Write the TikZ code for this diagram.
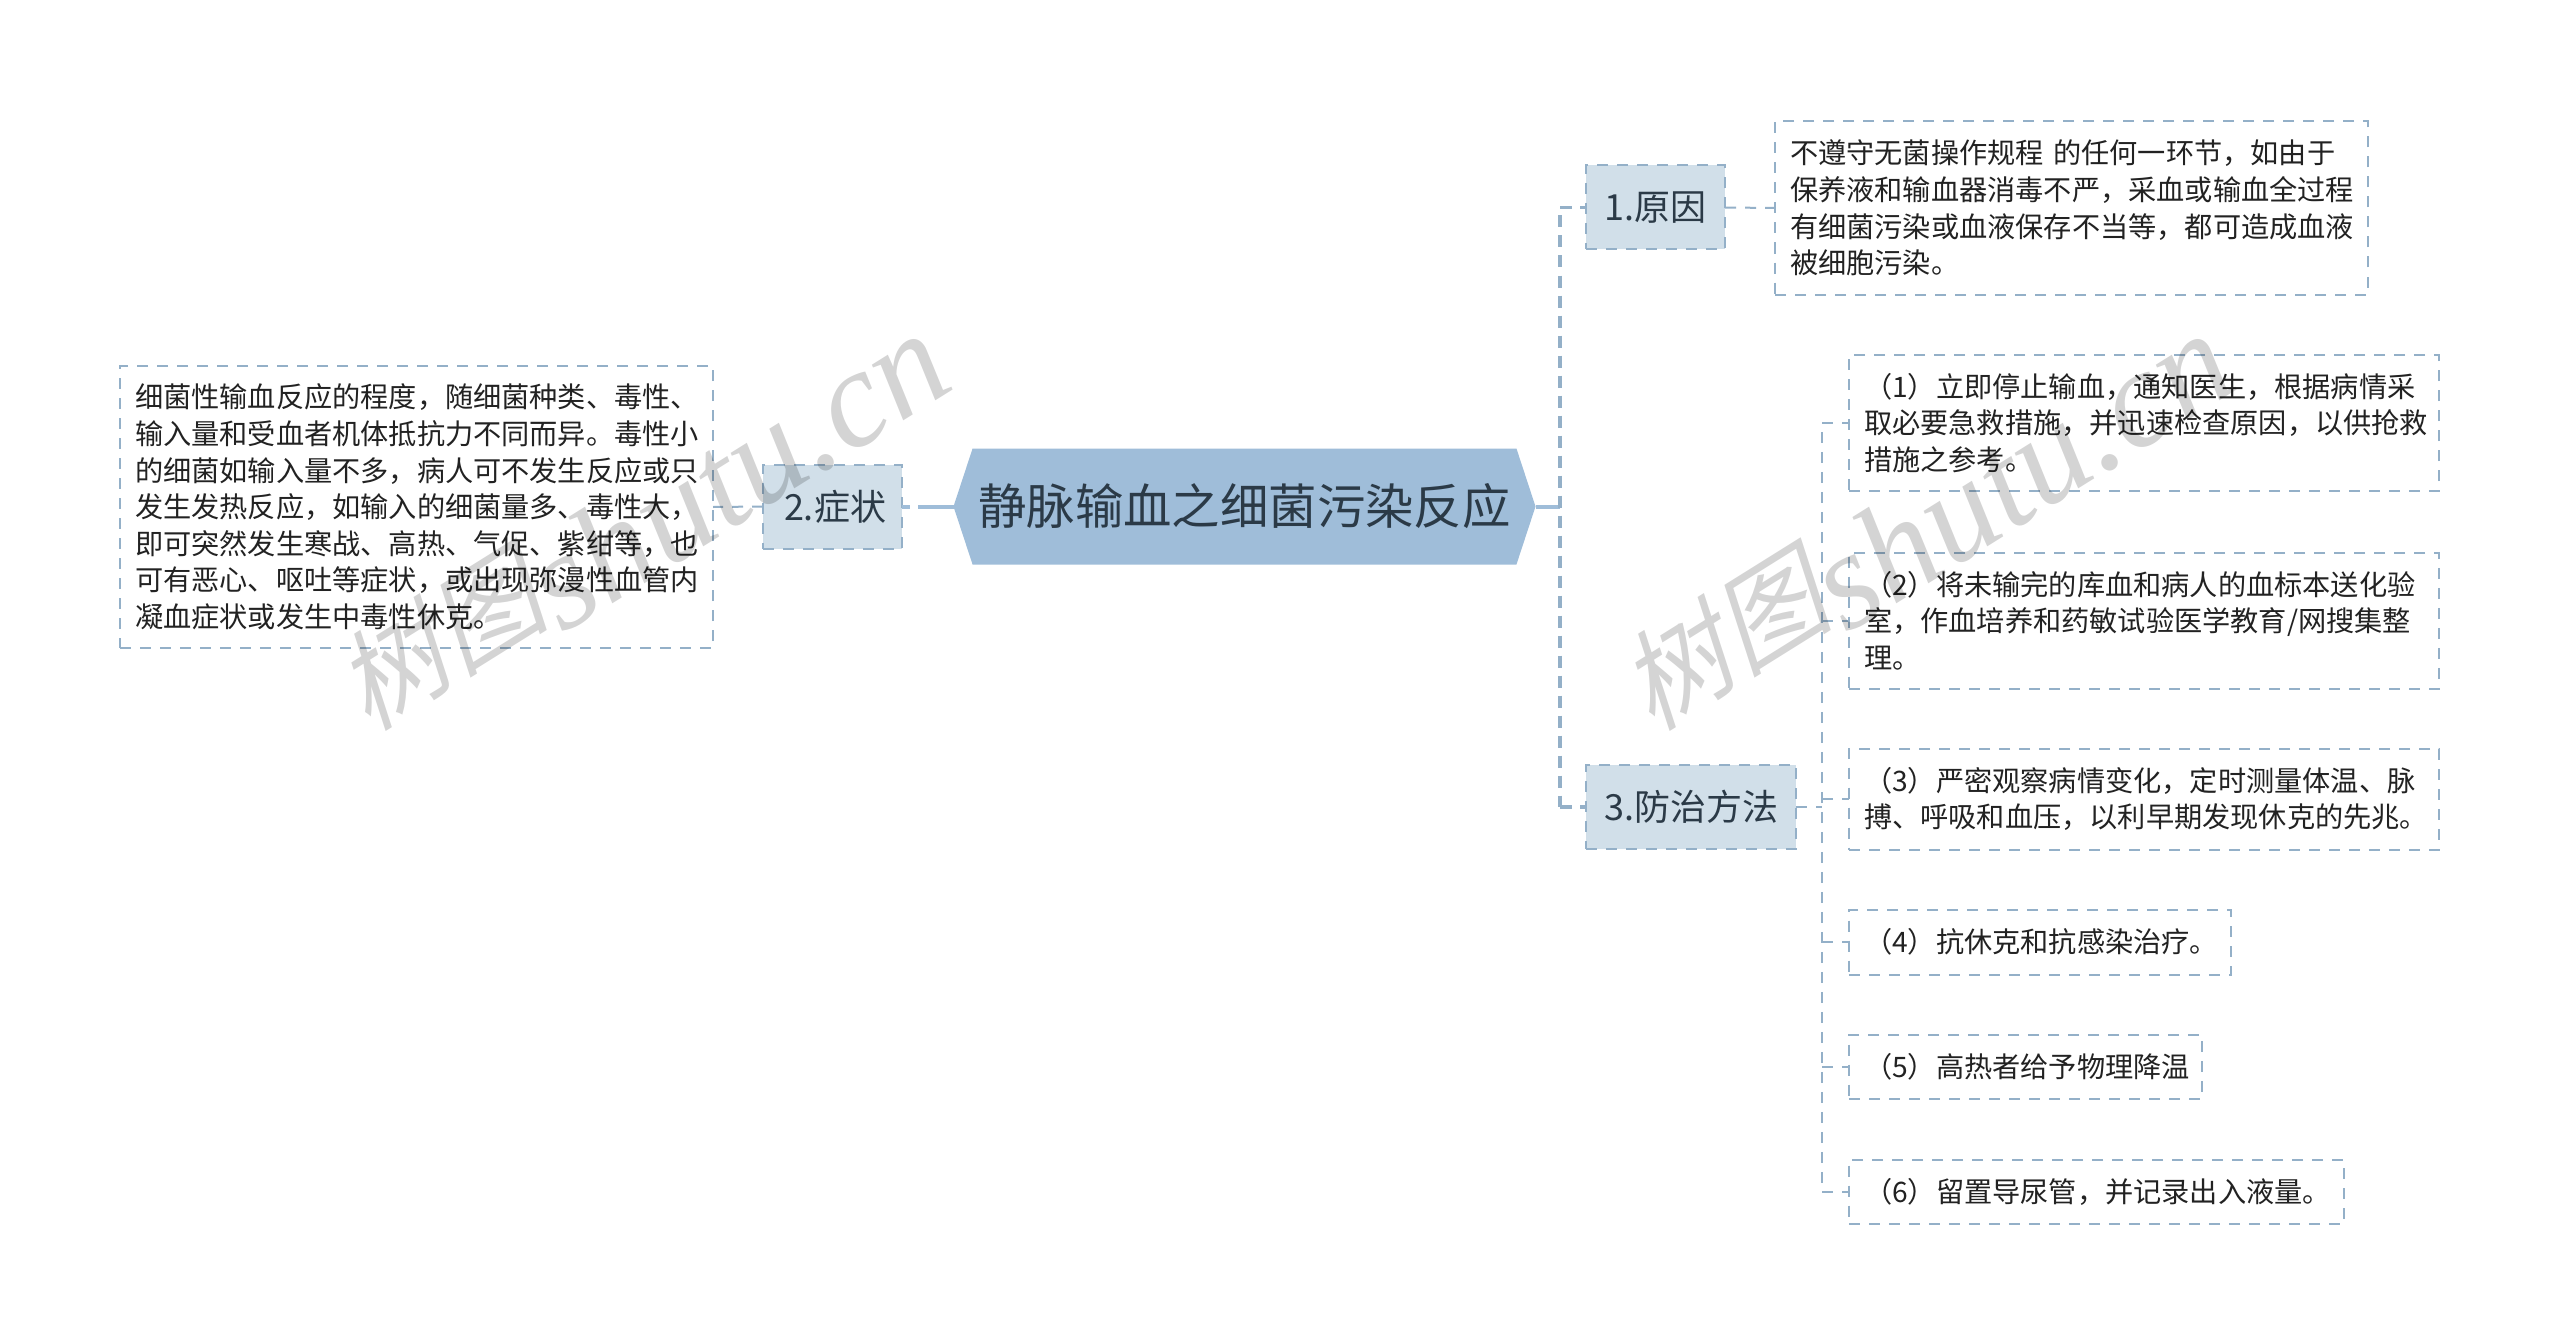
\documentclass[tikz,border=0pt]{standalone}
\usepackage{fontspec}
\usetikzlibrary{shapes.symbols}
\setmainfont{Noto Sans CJK SC}
\newfontfamily\wmcjk[FakeSlant=0.25]{Noto Sans CJK SC}
\newfontfamily\wmlat{Liberation Serif}
\definecolor{hexfill}{HTML}{9FBDD9}
\definecolor{subfill}{HTML}{D1DFE9}
\definecolor{dashcol}{HTML}{94B0C8}
\definecolor{inkdark}{HTML}{222222}
\definecolor{inktitle}{HTML}{2B3A47}
\tikzset{
  x=1pt,y=-1pt,
  boxline/.style={draw=dashcol,line width=2pt,dash pattern=on 11pt off 9pt},
  leaf/.style={boxline,text=inkdark,align=left,inner xsep=15pt,inner ysep=0pt,outer sep=0pt,
    font=\fontsize{28.2}{36.6}\selectfont},
  sub/.style={boxline,fill=subfill,text=inktitle,inner sep=0pt,outer sep=0pt,minimum height=84pt,
    font=\fontsize{36}{44}\selectfont},
  root/.style={shape=signal,signal to=west and east,signal pointer angle=143.6,fill=hexfill,
    text=inktitle,inner sep=0pt,outer sep=0pt,minimum width=582pt,minimum height=116pt,
    font=\fontsize{48.4}{58}\selectfont},
  trunksolid/.style={draw=hexfill,line width=4pt},
  branch/.style={draw=dashcol,line width=3.2pt,dash pattern=on 12pt off 8pt},
  twig/.style={draw=dashcol,line width=2pt,dash pattern=on 11pt off 9pt},
  wm/.style={rotate=32,text=black,text opacity=0.17,inner sep=0pt},
}
\newcommand{\wmtext}{\raisebox{20pt}{\fontsize{108}{130}\selectfont\wmcjk 树图}{\fontsize{139}{130}\selectfont\wmlat\itshape shutu.cn}}
\begin{document}
\begin{tikzpicture}
\useasboundingbox (0,0) rectangle (2560,1343);
\clip (0,0) rectangle (2560,1343);
\fill[white] (0,0) rectangle (2560,1343);

\node[root] (hex) at (1244.5,506.5) {静脉输血之细菌污染反应};

\node[sub,minimum width=139pt] (s2) at (832.5,506.5) {\hspace*{5pt}2.症状};
\node[sub,minimum width=139pt] (s1) at (1655.5,207.5) {1.原因};
\node[sub,minimum width=210pt] (s3) at (1691,807) {3.防治方法};

\node[leaf,text width=563pt,minimum height=282pt] (l2) at (416.5,507) {细菌性输血反应的程度，随细菌种类、毒性、\\输入量和受血者机体抵抗力不同而异。毒性小\\的细菌如输入量不多，病人可不发生反应或只\\发生发热反应，如输入的细菌量多、毒性大，\\即可突然发生寒战、高热、气促、紫绀等，也\\可有恶心、呕吐等症状，或出现弥漫性血管内\\凝血症状或发生中毒性休克。};
\node[leaf,text width=563pt,minimum height=173pt] (l1) at (2071.5,208) {不遵守无菌操作规程 的任何一环节，如由于\\保养液和输血器消毒不严，采血或输血全过程\\有细菌污染或血液保存不当等，都可造成血液\\被细胞污染。};
\node[leaf,text width=560pt,minimum height=136pt] (m1) at (2144,423) {（1）立即停止输血，通知医生，根据病情采\\取必要急救措施，并迅速检查原因，以供抢救\\措施之参考。};
\node[leaf,text width=560pt,minimum height=136pt] (m2) at (2144,620.5) {（2）将未输完的库血和病人的血标本送化验\\室，作血培养和药敏试验医学教育/网搜集整\\理。};
\node[leaf,text width=560pt,minimum height=101pt] (m3) at (2144,799) {（3）严密观察病情变化，定时测量体温、脉\\搏、呼吸和血压，以利早期发现休克的先兆。};
\node[leaf,text width=352pt,minimum height=65pt] (m4) at (2040,942) {（4）抗休克和抗感染治疗。};
\node[leaf,text width=323pt,minimum height=64pt] (m5) at (2025.5,1066.5) {（5）高热者给予物理降温};
\node[leaf,text width=465pt,minimum height=64pt] (m6) at (2096.5,1191.5) {（6）留置导尿管，并记录出入液量。};

\coordinate (tmid) at (1560,506.5);
\coordinate (ttop) at (1560,207.5);
\coordinate (tbot) at (1560,807);
\coordinate (gtop) at (1822,423);
\coordinate (gbot) at (1822,1191.5);
\coordinate (g2) at (1822,620.5);
\coordinate (g3) at (1822,799);
\coordinate (g3in) at (1822,807);
\coordinate (g4) at (1822,942);
\coordinate (g5) at (1822,1066.5);

\draw[trunksolid] (hex.east) -- (tmid);
\draw[trunksolid,dash pattern=on 36pt off 8pt] (hex.west) -- (s2.east);
\draw[twig] (s2.west) -- (l2.east);
\draw[branch,dash phase=12pt] (ttop) -- (tbot);
\draw[branch] (ttop) -- (s1.west);
\draw[branch] (tbot) -- (s3.west);
\draw[twig] (s1.east) -- (l1.west);
\draw[twig] (s3.east) -- (g3in);
\draw[twig,dash phase=11pt] (gtop) -- (gbot);
\draw[twig] (gtop) -- (m1.west);
\draw[twig] (g2) -- (m2.west);
\draw[twig] (g3) -- (m3.west);
\draw[twig] (g4) -- (m4.west);
\draw[twig] (g5) -- (m5.west);
\draw[twig] (gbot) -- (m6.west);

\node[wm] (w1) at (640,522) {\wmtext};
\node[wm] (w2) at (1924,522) {\wmtext};
\node[wm] (w3) at (626,1529) {\wmtext};
\node[wm] (w4) at (1910,1529) {\wmtext};
\end{tikzpicture}
\end{document}
